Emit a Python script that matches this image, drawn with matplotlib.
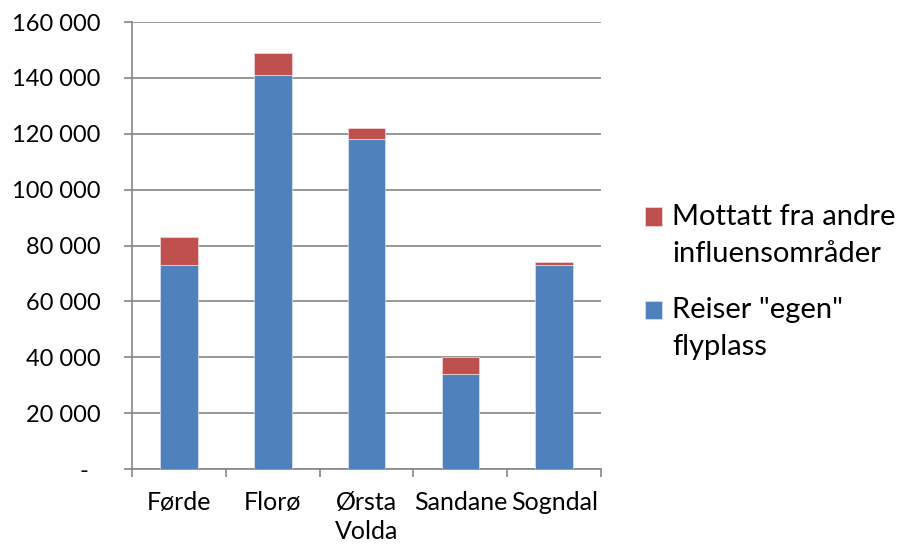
import matplotlib.pyplot as plt
import matplotlib.ticker as mticker
from matplotlib.patches import Rectangle
from matplotlib.legend_handler import HandlerPatch
import numpy as np

plt.rcParams['font.family'] = ['Lato', 'DejaVu Sans']

places = ['Førde', 'Florø', 'Ørsta\nVolda', 'Sandane', 'Sogndal']
own = [73000, 141000, 118000, 34000, 73000]
other = [10000, 8000, 4000, 6000, 1000]
yticks = [0, 20000, 40000, 60000, 80000, 100000, 120000, 140000, 160000]

blue = '#4F81BD'
red = '#C0504D'
grey = '#868686'

fig = plt.figure(figsize=(9.04, 5.45), dpi=100)
ax = fig.add_axes([0.146, 0.1394, 0.519, 0.8202])

x = np.arange(len(places))
b1 = ax.bar(x, own, width=0.4, color=blue, edgecolor='#dce6f2', linewidth=0.5, zorder=3)
b2 = ax.bar(x, other, width=0.4, bottom=own, color=red, edgecolor='#f2dcdb',
            linewidth=0.5, zorder=3)

ax.set_xlim(-0.5, len(places) - 0.5)
ax.set_ylim(0, 160000)
ax.set_yticks(yticks)


def fmt(v, pos):
    if v == 0:
        return '-  '
    return f'{int(v):,}'.replace(',', ' ')


ax.yaxis.set_major_formatter(mticker.FuncFormatter(fmt))
ax.yaxis.grid(True, color=grey, linewidth=1.2, zorder=0)

ax.set_xticks(x)
ax.set_xticklabels(places, linespacing=1.3)
ax.set_xticks(np.arange(-0.5, len(places)), minor=True)
ax.tick_params(axis='x', which='major', length=0, labelsize=18, pad=16)
ax.tick_params(axis='x', which='minor', length=6, width=1.2, color=grey)
ax.tick_params(axis='y', length=6, width=1.2, color=grey, labelsize=17, pad=16.5)

for s in ['top', 'right']:
    ax.spines[s].set_visible(False)
for s in ['left', 'bottom']:
    ax.spines[s].set_color(grey)
    ax.spines[s].set_linewidth(1.2)


# legend square sits on the first line of a two-line label
def first_line_patch(legend, orig_handle, xdescent, ydescent, width, height, fontsize):
    return Rectangle((-xdescent, -ydescent + 0.66 * fontsize), width, height)


h_red, h_blue = b2.patches[0], b1.patches[0]
leg = ax.legend([h_red, h_blue],
                ['Mottatt fra andre\ninfluensområder', 'Reiser "egen"\nflyplass'],
                loc='center left', bbox_to_anchor=(1.094, 0.418),
                frameon=False, fontsize=21, handlelength=0.58, handleheight=0.58,
                handletextpad=0.34, labelspacing=1.05, borderpad=0, borderaxespad=0,
                handler_map={h_red: HandlerPatch(patch_func=first_line_patch),
                             h_blue: HandlerPatch(patch_func=first_line_patch)})
for t in leg.get_texts():
    t.set_linespacing(1.5)

fig.savefig('out.png', dpi=100)
